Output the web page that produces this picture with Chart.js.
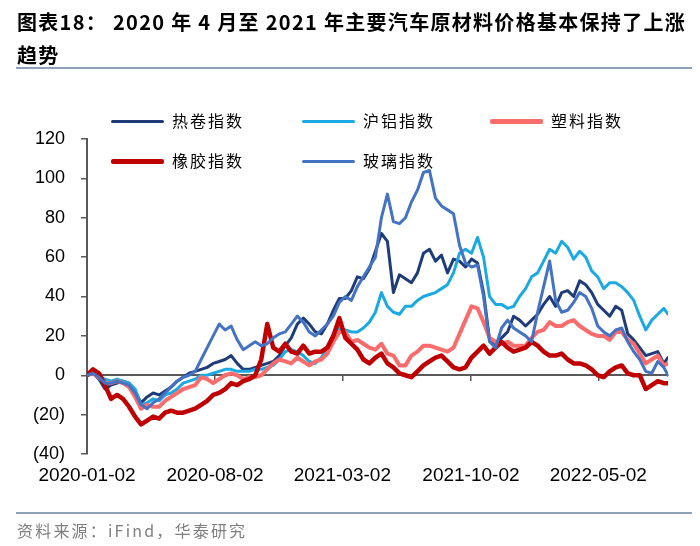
<!DOCTYPE html>
<html><head><meta charset="utf-8">
<script src="https://cdn.jsdelivr.net/npm/chart.js@4.4.1/dist/chart.umd.min.js"></script>
<style>
html,body{margin:0;padding:0;background:#fff;}
#wrap{position:relative;width:700px;height:546px;overflow:hidden;background:#fff;}
#c{position:absolute;left:0;top:0;}
.title{position:absolute;left:17px;top:5px;font-family:"Noto Sans CJK SC";font-weight:bold;font-size:20px;line-height:33px;color:#000;white-space:nowrap;letter-spacing:1.3px;}
.rule{position:absolute;left:16px;width:676px;height:2px;background:#8FA1B9;}
.src{position:absolute;left:17px;top:519px;font-family:"Noto Sans CJK SC";font-size:16px;line-height:22px;color:#7F7F7F;letter-spacing:2.2px;white-space:nowrap;}
.lg{position:absolute;font-family:"Noto Sans CJK SC";font-size:16px;line-height:20px;color:#000;letter-spacing:2px;white-space:nowrap;}
.sw{position:absolute;}
</style></head>
<body><div id="wrap">
<canvas id="c" width="700" height="546"></canvas>
<div class="title">图表18：&nbsp;2020 年 4 月至 2021 年主要汽车原材料价格基本保持了上涨<br>趋势</div>
<div class="rule" style="top:67px"></div>
<div class="rule" style="top:512px"></div>
<div class="src">资料来源：iFind，华泰研究</div>
<div id="legend"></div>
</div>
<script>
const dates = ["2020-01-02","2020-01-12","2020-01-22","2020-02-01","2020-02-11","2020-02-21","2020-03-02","2020-03-12","2020-03-22","2020-04-01",
"2020-04-11","2020-04-21","2020-05-01","2020-05-11","2020-05-21","2020-05-31","2020-06-10","2020-06-20","2020-06-30","2020-07-10",
"2020-07-20","2020-07-30","2020-08-09","2020-08-19","2020-08-29","2020-09-08","2020-09-18","2020-09-28","2020-10-08","2020-10-18",
"2020-10-28","2020-11-07","2020-11-17","2020-11-27","2020-12-07","2020-12-17","2020-12-27","2021-01-06","2021-01-16","2021-01-26",
"2021-02-05","2021-02-15","2021-02-25","2021-03-07","2021-03-17","2021-03-27","2021-04-06","2021-04-16","2021-04-26","2021-05-06",
"2021-05-16","2021-05-26","2021-06-05","2021-06-15","2021-06-25","2021-07-05","2021-07-15","2021-07-25","2021-08-04","2021-08-14",
"2021-08-24","2021-09-03","2021-09-13","2021-09-23","2021-10-03","2021-10-13","2021-10-23","2021-11-02","2021-11-12","2021-11-22",
"2021-12-02","2021-12-12","2021-12-22","2022-01-01","2022-01-11","2022-01-21","2022-01-31","2022-02-10","2022-02-20","2022-03-02",
"2022-03-12","2022-03-22","2022-04-01","2022-04-11","2022-04-21","2022-05-01","2022-05-11","2022-05-21","2022-05-31","2022-06-10",
"2022-06-20","2022-06-30","2022-07-10","2022-07-20","2022-07-30","2022-08-09","2022-08-19","2022-08-26"];

const hotCoil = [0,1,-2,-7,-5,-4,-3,-4,-8,-14, -11,-9,-10,-8,-6,-3,-1,1,2,3, 4,6,7,8,10,6,3,3,4,5,
6,7,10,15,19,26,29,26,22,21, 26,33,39,39,43,50,49,54,63,72, 68,42,51,49,47,52,62,64,58,61,
52,59,58,55,59,57,42,18,16,19, 22,30,28,25,28,31,36,40,35,42, 43,40,48,46,42,36,33,30,35,33,
21,18,14,10,11,12,6,9];
const aluminum = [0,1,-1,-2,-3,-2,-3,-4,-7,-15, -14,-12,-13,-10,-9,-7,-4,-3,-2,0, 0,1,2,3,3,2,2,2,3,3,
4,5,8,12,13,12,10,7,6,9, 14,20,24,23,22,22,24,27,32,42, 35,32,31,35,35,38,40,41,42,44,
46,52,62,64,62,70,60,40,36,36, 34,35,40,44,50,52,58,64,62,68, 65,59,63,60,53,50,44,47,47,45,
42,38,30,23,28,31,34,31];
const plastic = [0,1,-1,-4,-4,-3,-4,-6,-11,-17, -15,-16,-16,-13,-11,-9,-7,-6,-5,-1, -2,-4,-2,0,1,0,-2,-1,-1,0,
3,6,8,7,6,9,7,5,7,8, 11,17,22,22,17,18,16,14,13,16, 11,10,5,5,10,12,15,15,14,13,
12,14,21,28,35,34,27,19,17,16, 17,15,15,15,19,22,23,27,25,25, 27,28,25,23,21,20,20,18,22,22,
18,16,11,6,8,10,5,6];
const rubber = [0,3,1,-5,-12,-10,-12,-16,-21,-25, -23,-21,-22,-19,-18,-19,-19,-18,-17,-15, -13,-10,-9,-7,-4,-5,-3,-2,0,8,
26,14,12,16,12,11,15,11,12,12, 14,20,29,19,16,13,8,6,9,11, 6,4,1,0,-1,2,5,7,9,10,
7,4,3,4,9,12,15,11,14,17, 14,12,13,14,17,15,12,10,10,11, 8,6,6,5,3,0,-1,2,4,5,
1,0,0,-7,-5,-3,-4,-4];
const glass = [0,1,-1,-4,-4,-3,-4,-5,-9,-15, -17,-14,-12,-9,-6,-3,-1,0,2,8, 14,20,26,23,25,18,13,15,17,15,
16,19,21,22,26,30,27,22,20,23, 26,30,37,40,38,45,50,55,60,80, 92,78,77,80,88,94,103,104,90,86,
84,82,66,57,55,56,40,17,14,24, 28,24,22,20,17,32,45,58,38,32, 33,37,42,40,34,25,22,20,23,24,
17,12,8,2,1,7,4,0];

const seriesNames = ["热卷指数","沪铝指数","塑料指数","橡胶指数","玻璃指数"];
const tickLabels = ["2020-01-02","2020-08-02","2021-03-02","2021-10-02","2022-05-02"];
const yTickValues = [-40,-20,0,20,40,60,80,100,120];

const colors = ["#1F3C7A","#1BA9E4","#FA6B6B","#C00000","#4472C4"];
const widths = [3,3,4,4.5,3];
const orders = [5,4,3,2,1];

const dayOf = s => Math.round((Date.parse(s) - Date.parse(dates[0])) / 86400000);
const xs = dates.map(dayOf);
const xMax = xs[xs.length-1];
const tickDays = tickLabels.map(dayOf);
const pts = arr => arr.map((v,i) => ({x: xs[i], y: v}));
const allSeries = [hotCoil, aluminum, plastic, rubber, glass];

const datasets = allSeries.map((arr,i) => ({
  label: seriesNames[i], data: pts(arr), borderColor: colors[i], backgroundColor: colors[i],
  borderWidth: widths[i], pointRadius: 0, tension: 0, fill: false, order: orders[i],
  borderJoinStyle: 'round', borderCapStyle: 'round'
}));

// legend (HTML key)
const lgPos = [[111,121],[302,121],[490,121],[111,161],[302,161]];
const lgThick = [3,3,5,5,3];
const lg = document.getElementById('legend');
seriesNames.forEach((n,i) => {
  const [lx, ly] = lgPos[i];
  const sw = document.createElement('div');
  sw.className = 'sw';
  sw.style.left = lx + 'px'; sw.style.width = '53px';
  sw.style.top = (ly - lgThick[i]/2) + 'px'; sw.style.height = lgThick[i] + 'px';
  sw.style.background = colors[i]; sw.style.borderRadius = '2px';
  lg.appendChild(sw);
  const t = document.createElement('div');
  t.className = 'lg'; t.textContent = n;
  t.style.left = (lx + 61) + 'px'; t.style.top = (ly - 11) + 'px';
  lg.appendChild(t);
});

const fixTicks = s => { s.ticks = tickDays.map(v => ({value: v})); };

new Chart(document.getElementById('c'), {
  type: 'line',
  data: { datasets },
  options: {
    responsive: false, animation: false, devicePixelRatio: 1,
    layout: { padding: { left: 0, top: 139, right: 32, bottom: 52 } },
    plugins: { legend: { display: false }, tooltip: { enabled: false } },
    scales: {
      x: {
        type: 'linear', min: 0, max: xMax, position: 'bottom',
        border: { display: false }, grid: { display: false, drawTicks: false },
        afterBuildTicks: fixTicks,
        ticks: {
          autoSkip: false, maxRotation: 0, padding: 10, color: '#000',
          font: { family: 'Liberation Sans', size: 19 },
          callback: v => { const i = tickDays.indexOf(v); return i >= 0 ? tickLabels[i] : ''; }
        },
        afterFit: s => { s.height = 40; }
      },
      x2: {
        type: 'linear', min: 0, max: xMax, position: { y: 0 },
        border: { display: true, color: '#595959', width: 2 },
        grid: { drawOnChartArea: false, drawTicks: true, tickLength: 5, color: '#595959', lineWidth: 1.5 },
        afterBuildTicks: fixTicks,
        ticks: { display: false },
        afterFit: s => { s.height = 0; }
      },
      y: {
        min: -40, max: 120,
        afterBuildTicks: s => { s.ticks = yTickValues.map(v => ({value: v})); },
        border: { display: true, color: '#595959', width: 2 },
        grid: { drawOnChartArea: false, drawTicks: true, tickLength: 6, color: '#595959', lineWidth: 1.5 },
        ticks: {
          padding: 16, color: '#000', font: { family: 'Liberation Sans', size: 18 },
          callback: v => v < 0 ? '(' + Math.abs(v) + ')' : String(v)
        },
        afterFit: s => { s.width = 87; }
      }
    }
  }
});
</script>
</body></html>
